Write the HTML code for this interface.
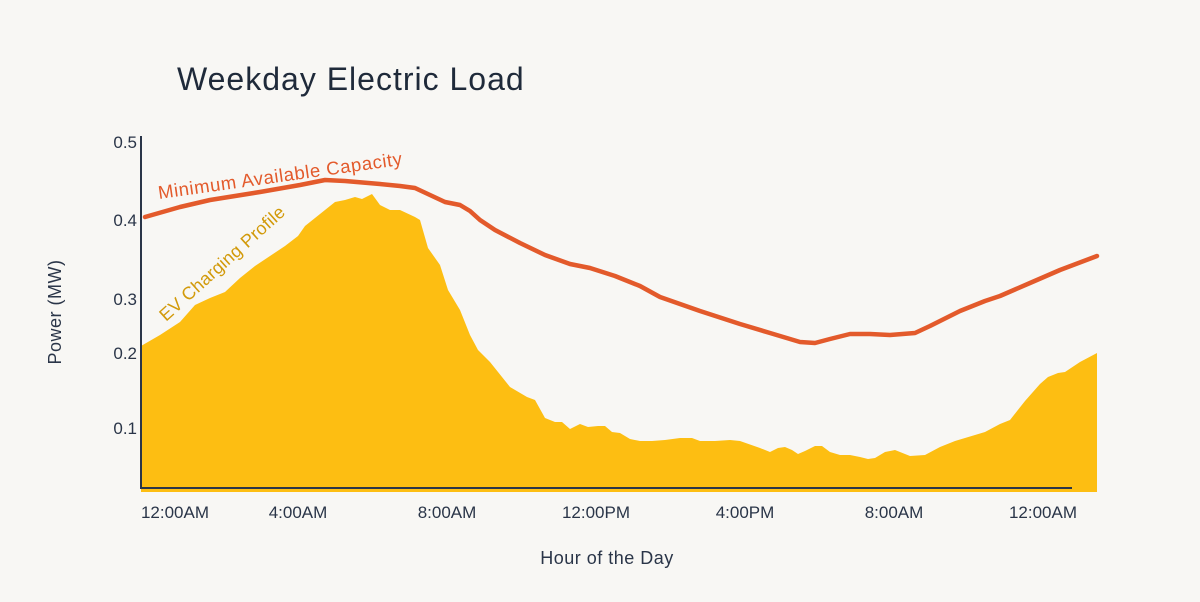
<!DOCTYPE html>
<html><head><meta charset="utf-8"><style>
html,body{margin:0;padding:0;background:#f8f7f4;}
svg{display:block;font-family:"Liberation Sans",sans-serif;}
</style></head><body>
<svg width="1200" height="602" viewBox="0 0 1200 602">
<rect width="1200" height="602" fill="#f8f7f4"/>
<text x="177" y="90" font-size="32" letter-spacing="1" fill="#1f2a3a">Weekday Electric Load</text>
<polygon fill="#fdbe12" points="141,346 160,335 180,322 195,305 210,298 225,292 240,278 255,266 270,256 285,246 298,236 305,226 320,214 335,202 345,200 355,197 362,199 372,194 380,205 390,210 400,210 415,217 420,220 428,248 440,265 448,290 460,310 470,335 478,350 490,362 498,372 510,387 527,397 535,400 545,418 555,422 562,422 570,429 580,424 588,427 598,426 605,426 612,432 620,433 630,439 640,441 652,441 665,440 680,438 692,438 700,441 715,441 730,440 740,441 760,448 770,452 778,448 785,447 792,450 798,454 805,451 815,446 822,446 830,452 840,455 850,455 860,457 868,459 875,458 885,452 895,450 900,452 910,456 925,455 940,447 955,441 965,438 985,432 1000,424 1010,420 1025,401 1040,384 1048,377 1058,373 1065,372 1080,362 1097,353 1097,492 141,492"/>
<polyline fill="none" stroke="#e35a2b" stroke-width="4.5" stroke-linejoin="round" stroke-linecap="round" points="145,217 180,207 210,200 260,192 300,185 315,182 325,180 345,181 380,184 400,186 415,188 430,195 445,202 460,205 470,211 480,220 495,230 520,243 545,255 570,264 590,268 615,276 640,286 660,297 700,311 740,324 770,333 800,342 815,343 830,339 850,334 870,334 890,335 915,333 930,326 960,311 985,301 1000,296 1030,283 1060,270 1097,256"/>
<line x1="141" y1="136" x2="141" y2="489" stroke="#2a3548" stroke-width="2"/>
<line x1="140" y1="488" x2="1072" y2="488" stroke="#2a3548" stroke-width="2"/>
<g font-size="17" fill="#2a3548" text-anchor="end">
<text x="137" y="148">0.5</text>
<text x="137" y="226">0.4</text>
<text x="137" y="305">0.3</text>
<text x="137" y="359">0.2</text>
<text x="137" y="434">0.1</text>
</g>
<g font-size="17" fill="#2a3548" text-anchor="middle">
<text x="175" y="518">12:00AM</text>
<text x="298" y="518">4:00AM</text>
<text x="447" y="518">8:00AM</text>
<text x="596" y="518">12:00PM</text>
<text x="745" y="518">4:00PM</text>
<text x="894" y="518">8:00AM</text>
<text x="1043" y="518">12:00AM</text>
</g>
<text x="607" y="564" font-size="18" letter-spacing="0.5" fill="#2a3548" text-anchor="middle">Hour of the Day</text>
<text transform="translate(61,312) rotate(-90)" font-size="18" letter-spacing="0.5" fill="#2a3548" text-anchor="middle">Power (MW)</text>
<text transform="translate(159,199) rotate(-8)" font-size="18.5" letter-spacing="0.6" fill="#e35a2b">Minimum Available Capacity</text>
<text transform="translate(166,322) rotate(-42)" font-size="18" letter-spacing="0.2" fill="#d29a0a">EV Charging Profile</text>
</svg>
</body></html>
